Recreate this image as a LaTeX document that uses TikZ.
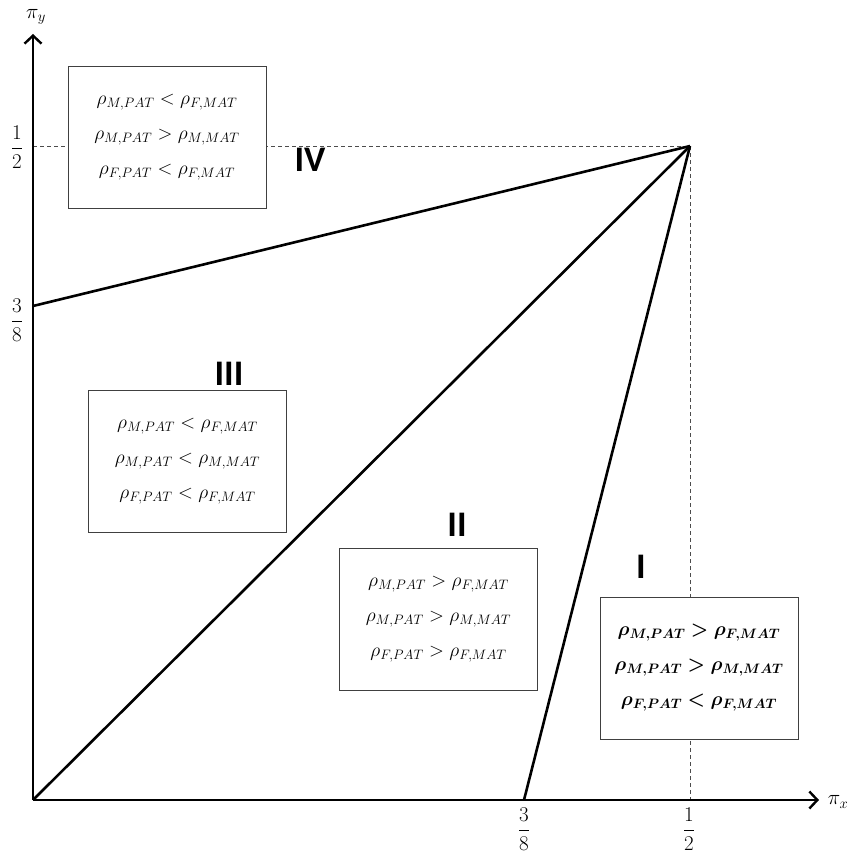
\RequirePackage{fix-cm}
\documentclass[tikz,border=0pt]{standalone}
\usepackage{amsmath,bm}
\usepackage{fontspec}
\newfontfamily\romfont{Carlito}
\usetikzlibrary{arrows.meta}
\tikzset{
  cbox/.style={draw=black!75, line width=0.9pt, fill=white, minimum width=198pt, minimum height=142pt, align=center, inner sep=0pt, font=\fontsize{19.5}{35}\selectfont},
  roman/.style={font=\romfont\bfseries\fontsize{36}{36}\selectfont, inner sep=0pt},
  thick line/.style={line width=2.6pt},
  axis/.style={line width=2pt, -{Straight Barb[length=8pt,width=17pt,line width=2.4pt]}},
  guide/.style={dashed, black!70, line width=0.8pt, dash pattern=on 4pt off 3pt},
  frac/.style={font=\fontsize{21}{24}\selectfont, inner sep=0pt},
  axlabel/.style={font=\fontsize{21}{24}\selectfont, inner sep=0pt}
}
\begin{document}
\begin{tikzpicture}[x=1pt,y=-1pt]
\useasboundingbox (0,0) rectangle (853,856);
\coordinate (O) at (33,800);
\coordinate (P) at (690,146);
\coordinate (Y38) at (33,306);
\coordinate (X38) at (524,800);
\coordinate (Yhalf) at (33,146);
\coordinate (Xhalf) at (690,800);
\coordinate (Ytop) at (33,34);
\coordinate (Xend) at (819,800);
% guides
\draw[guide] (Yhalf) -- (P);
\draw[guide] (P) -- (Xhalf);
% boundary lines
\draw[thick line] (O) -- (P);
\draw[thick line] (Y38) -- (P);
\draw[thick line] (X38) -- (P);
% axes
\draw[axis] (O) -- (Ytop);
\draw[axis] (O) -- (Xend);
\node[axlabel] (piy) at (36,17) {$\pi_y$};
\node[axlabel] (pix) at (838,802) {$\pi_x$};
% tick labels
\node[frac] (fy12) at (17,147) {$\dfrac{1}{2}$};
\node[frac] (fy38) at (17,320) {$\dfrac{3}{8}$};
\node[frac] (fx38) at (524,829) {$\dfrac{3}{8}$};
\node[frac] (fx12) at (689,829) {$\dfrac{1}{2}$};
% boxes
\node[cbox] (bIV) at (167,137) {$\rho_{M,PAT} < \rho_{F,MAT}$\\$\rho_{M,PAT} > \rho_{M,MAT}$\\$\rho_{F,PAT} < \rho_{F,MAT}$};
\node[cbox] (bIII) at (187.5,461) {$\rho_{M,PAT} < \rho_{F,MAT}$\\$\rho_{M,PAT} < \rho_{M,MAT}$\\$\rho_{F,PAT} < \rho_{F,MAT}$};
\node[cbox] (bII) at (438.5,619) {$\rho_{M,PAT} > \rho_{F,MAT}$\\$\rho_{M,PAT} > \rho_{M,MAT}$\\$\rho_{F,PAT} > \rho_{F,MAT}$};
\node[cbox] (bI) at (699,668) {$\bm{\rho_{M,PAT} > \rho_{F,MAT}}$\\$\bm{\rho_{M,PAT} > \rho_{M,MAT}}$\\$\bm{\rho_{F,PAT} < \rho_{F,MAT}}$};
% region labels
\node[roman] (rIV) at (310,160) {IV};
\node[roman] (rIII) at (229,374) {III};
\node[roman] (rII) at (457,525) {II};
\node[roman] (rI) at (641,567) {I};
\end{tikzpicture}
\end{document}
